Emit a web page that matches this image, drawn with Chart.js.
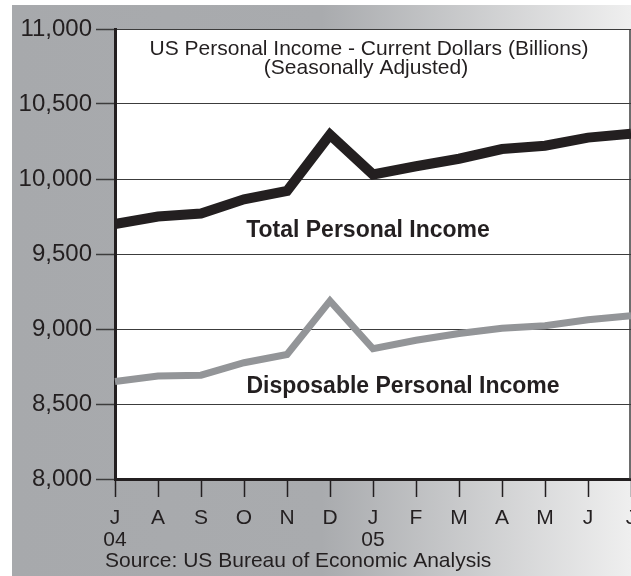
<!DOCTYPE html>
<html>
<head>
<meta charset="utf-8">
<title>US Personal Income</title>
<script src="https://cdn.jsdelivr.net/npm/chart.js@4.4.1/dist/chart.umd.min.js"></script>
<style>
    html, body { margin: 0; padding: 0; background: #fff; }
    #chartBox { position: relative; width: 631px; height: 576px; }
</style>
</head>
<body>
<div id="chartBox">
    <canvas id="incomeChart" width="631" height="576"></canvas>
</div>
<script>
// Oylar (2004-yil iyul - 2005-yil iyul)
const months = [['J', '04'], 'A', 'S', 'O', 'N', 'D', ['J', '05'], 'F', 'M', 'A', 'M', 'J', 'J'];

// Umumiy shaxsiy daromad (mlrd. dollar)
const totalIncome = [9700, 9750, 9770, 9865, 9920, 10295, 10030, 10085, 10135, 10200, 10222, 10276, 10302];

// Ixtiyoriy foydalaniladigan daromad (mlrd. dollar)
const disposableIncome = [8650, 8687, 8692, 8775, 8830, 9188, 8868, 8925, 8970, 9005, 9022, 9062, 9088];

// Y o'qi chegaralari
const yMin = 8000;
const yMax = 11000;
const yStep = 500;

const chartTitle = ['US Personal Income - Current Dollars (Billions)', '(Seasonally Adjusted)'];
const totalLabel = 'Total Personal Income';
const disposableLabel = 'Disposable Personal Income';
const sourceText = 'Source: US Bureau of Economic Analysis';

const FONT = "'Liberation Sans', Arial, Helvetica, sans-serif";
const INK = '#231f20';

// Fon va chizma maydoni
const backgroundPlugin = {
    id: 'background',
    beforeDraw(chart) {
        const { ctx, chartArea: a, width, height } = chart;
        ctx.save();
        ctx.fillStyle = '#fff';
        ctx.fillRect(0, 0, width, height);
        const g = ctx.createLinearGradient(12, 0, width, 0);
        g.addColorStop(0, '#a7a9ac');
        g.addColorStop(0.5, '#a9abae');
        g.addColorStop(1, '#efefef');
        ctx.fillStyle = g;
        ctx.fillRect(12, 5, width - 12, height - 5);
        ctx.fillStyle = '#fff';
        ctx.fillRect(a.left, a.top, a.right - a.left, a.bottom - a.top);
        ctx.restore();
    },
    beforeDatasetsDraw(chart) {
        const { ctx, chartArea: a } = chart;
        ctx.save();
        ctx.strokeStyle = '#3c3c3c';
        ctx.lineWidth = 1.5;
        ctx.beginPath();
        ctx.moveTo(a.right - 1, a.top);
        ctx.lineTo(a.right - 1, a.bottom);
        ctx.stroke();
        ctx.restore();
    }
};

// Matnlar: sarlavha, seriya nomlari, manba
const notesPlugin = {
    id: 'notes',
    afterDraw(chart) {
        const ctx = chart.ctx;
        ctx.save();
        ctx.fillStyle = INK;
        ctx.textBaseline = 'alphabetic';
        ctx.textAlign = 'center';
        ctx.font = `21px ${FONT}`;
        ctx.fillText(chartTitle[0], 369, 55);
        ctx.fillText(chartTitle[1], 366, 74);

        ctx.font = `bold 23px ${FONT}`;
        ctx.fillText(totalLabel, 368, 237);
        ctx.fillText(disposableLabel, 403, 393);

        ctx.textAlign = 'left';
        ctx.font = `21px ${FONT}`;
        ctx.fillText(sourceText, 105, 567);
        ctx.restore();
    }
};

function createIncomeChart() {
    const canvas = document.getElementById('incomeChart');
    if (!canvas) return;
    const ctx = canvas.getContext('2d');

    Chart.defaults.font.family = FONT;
    Chart.defaults.color = INK;

    window.incomeChart = new Chart(ctx, {
        type: 'line',
        data: {
            labels: months,
            datasets: [
                {
                    label: totalLabel,
                    data: totalIncome,
                    borderColor: INK,
                    borderWidth: 10,
                    borderJoinStyle: 'miter',
                    borderCapStyle: 'butt',
                    pointRadius: 0,
                    tension: 0,
                    fill: false
                },
                {
                    label: disposableLabel,
                    data: disposableIncome,
                    borderColor: '#939598',
                    borderWidth: 7,
                    borderJoinStyle: 'miter',
                    borderCapStyle: 'butt',
                    pointRadius: 0,
                    tension: 0,
                    fill: false
                }
            ]
        },
        options: {
            responsive: false,
            animation: false,
            devicePixelRatio: 1,
            layout: { padding: { top: 29, right: 0, bottom: 0, left: 0 } },
            plugins: {
                legend: { display: false },
                title: { display: false },
                tooltip: { enabled: false }
            },
            scales: {
                x: {
                    offset: false,
                    grid: {
                        drawOnChartArea: false,
                        drawTicks: true,
                        tickLength: 18,
                        tickColor: INK,
                        tickWidth: 1.5
                    },
                    border: { display: true, color: INK, width: 3 },
                    ticks: {
                        autoSkip: false,
                        maxRotation: 0,
                        padding: 10,
                        color: INK,
                        font: { size: 21, lineHeight: 1.05 }
                    },
                    afterFit(scale) {
                        scale.height = 97;
                        scale.paddingLeft = 0;
                        scale.paddingRight = 0;
                    }
                },
                y: {
                    min: yMin,
                    max: yMax,
                    grid: {
                        color: '#3c3c3c',
                        lineWidth: 1,
                        tickLength: 19,
                        tickColor: '#3c3c3c',
                        tickWidth: 1.5
                    },
                    border: { display: true, color: INK, width: 3 },
                    ticks: {
                        stepSize: yStep,
                        padding: 4,
                        color: INK,
                        font: { size: 24 }
                    },
                    afterFit(scale) {
                        scale.width = 115;
                    }
                }
            }
        },
        plugins: [backgroundPlugin, notesPlugin]
    });
}

createIncomeChart();
</script>
</body>
</html>
